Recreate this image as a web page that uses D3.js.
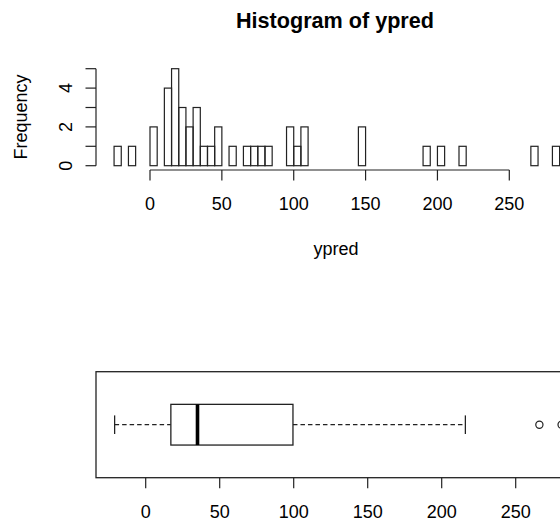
<!DOCTYPE html>
<html><head><meta charset="utf-8">
<script src="https://cdn.jsdelivr.net/npm/d3@7"></script>
<style>
html,body{margin:0;padding:0;background:#fff;overflow:hidden}
text{font-family:"Liberation Sans",Arial,sans-serif;fill:#000}
</style></head>
<body>
<svg id="c" width="560" height="521"></svg>
<script>
// Histogram data: bin lower edges (width 5) and counts
const binWidth = 5;
const binStarts = [-25,-20,-15,-10,-5,0,5,10,15,20,25,30,35,40,45,50,55,60,65,70,75,80,85,90,95,100,105,
  110,115,120,125,130,135,140,145,150,155,160,165,170,175,180,185,190,195,200,205,210,215,
  220,225,230,235,240,245,250,255,260,265,270,275,280,285];
const counts = [1,0,1,0,0,2,0,4,5,3,2,3,1,1,2,0,1,0,1,1,1,1,0,0,2,1,2,
  0,0,0,0,0,0,0,2,0,0,0,0,0,0,0,0,1,0,1,0,0,1,
  0,0,0,0,0,0,0,0,0,1,0,0,1,0];
const histXTicks = [0,50,100,150,200,250];
const histYTicks = [0,1,2,3,4,5];
const histYLabels = [0,2,4];

// Boxplot summary
const whiskerLow = -21, q1 = 17, median = 35, q3 = 99.5, whiskerHigh = 216;
const outliers = [266, 281];
const boxTicks = [0,50,100,150,200,250];

const titleText = "Histogram of ypred";
const xLabel = "ypred";
const yLabel = "Frequency";

const svg = d3.select("#c");
const ink = "#222";

// ---------- Histogram ----------
const hx = d3.scaleLinear().domain([0,250]).range([150,509.3]);
const hy = d3.scaleLinear().domain([0,5]).range([165.7,68.7]);

const bins = binStarts.map((s,i)=>({x0:s,x1:s+binWidth,n:counts[i]}));
svg.append("g").selectAll("rect").data(bins).join("rect")
  .attr("x",d=>hx(d.x0)).attr("width",d=>hx(d.x1)-hx(d.x0))
  .attr("y",d=>hy(d.n)).attr("height",d=>hy(0)-hy(d.n))
  .attr("fill","none").attr("stroke",ink).attr("stroke-width",1.2);

// x axis
const gx = svg.append("g").attr("transform","translate(0,170)");
gx.append("line").attr("x1",hx(histXTicks[0])).attr("x2",hx(histXTicks[histXTicks.length-1]))
  .attr("stroke",ink).attr("stroke-width",1.2);
gx.selectAll("line.t").data(histXTicks).join("line").attr("class","t")
  .attr("x1",d=>hx(d)).attr("x2",d=>hx(d)).attr("y1",0).attr("y2",10.5)
  .attr("stroke",ink).attr("stroke-width",1.2);
gx.selectAll("text").data(histXTicks).join("text")
  .attr("x",d=>hx(d)).attr("y",40).attr("text-anchor","middle")
  .attr("font-size",18).text(d=>d);

// y axis
const gy = svg.append("g").attr("transform","translate(96,0)");
gy.append("line").attr("y1",hy(0)).attr("y2",hy(5)).attr("stroke",ink).attr("stroke-width",1.2);
gy.selectAll("line.t").data(histYTicks).join("line").attr("class","t")
  .attr("x1",0).attr("x2",-10.5).attr("y1",d=>hy(d)).attr("y2",d=>hy(d))
  .attr("stroke",ink).attr("stroke-width",1.2);
gy.selectAll("text").data(histYLabels).join("text")
  .attr("transform",d=>`translate(-24.5,${hy(d)}) rotate(-90)`)
  .attr("text-anchor","middle").attr("font-size",18).text(d=>d);

svg.append("text").attr("transform","translate(27,117) rotate(-90)")
  .attr("text-anchor","middle").attr("font-size",18).text(yLabel);
svg.append("text").attr("x",336).attr("y",255).attr("text-anchor","middle")
  .attr("font-size",18).text(xLabel);
svg.append("text").attr("x",335).attr("y",28).attr("text-anchor","middle")
  .attr("font-size",21.6).attr("font-weight","bold").text(titleText);

// ---------- Boxplot ----------
const bx = d3.scaleLinear().domain([0,250]).range([145.7,515.7]);
const by = 424.7, bh = 40.7, capH = 18.6;
const gb = svg.append("g");
gb.append("rect").attr("x",96).attr("y",371.7).attr("width",700).attr("height",106)
  .attr("fill","none").attr("stroke",ink).attr("stroke-width",1.3);
// whiskers
[[whiskerLow,q1],[q3,whiskerHigh]].forEach(([a,b])=>{
  gb.append("line").attr("x1",bx(a)).attr("x2",bx(b)).attr("y1",by).attr("y2",by)
    .attr("stroke",ink).attr("stroke-width",1.2).attr("stroke-dasharray","4.5,3");
});
[whiskerLow,whiskerHigh].forEach(v=>{
  gb.append("line").attr("x1",bx(v)).attr("x2",bx(v)).attr("y1",by-capH/2).attr("y2",by+capH/2)
    .attr("stroke",ink).attr("stroke-width",1.3);
});
gb.append("rect").attr("x",bx(q1)).attr("width",bx(q3)-bx(q1))
  .attr("y",by-bh/2).attr("height",bh).attr("fill","#fff")
  .attr("stroke",ink).attr("stroke-width",1.3);
gb.append("line").attr("x1",bx(median)).attr("x2",bx(median))
  .attr("y1",by-bh/2).attr("y2",by+bh/2).attr("stroke","#000").attr("stroke-width",3.6);
gb.selectAll("circle").data(outliers).join("circle")
  .attr("cx",d=>bx(d)).attr("cy",by).attr("r",3.6)
  .attr("fill","none").attr("stroke",ink).attr("stroke-width",1.2);

const gbx = svg.append("g").attr("transform","translate(0,477.7)");
gbx.selectAll("line").data(boxTicks).join("line")
  .attr("x1",d=>bx(d)).attr("x2",d=>bx(d)).attr("y1",0).attr("y2",10.5)
  .attr("stroke",ink).attr("stroke-width",1.2);
gbx.selectAll("text").data(boxTicks).join("text")
  .attr("x",d=>bx(d)).attr("y",40.5).attr("text-anchor","middle")
  .attr("font-size",18).text(d=>d);
</script>
</body></html>
